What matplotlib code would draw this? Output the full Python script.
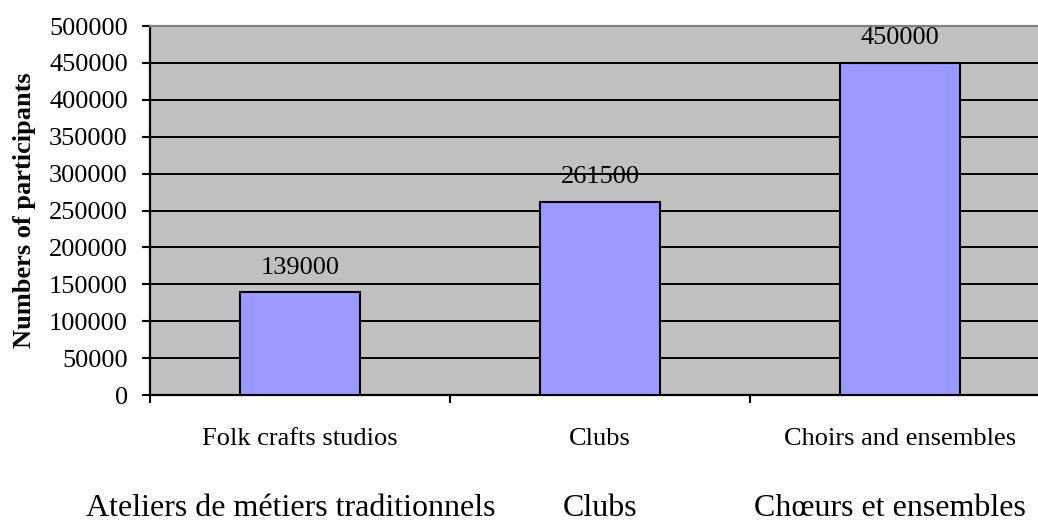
import matplotlib
matplotlib.use("Agg")
import matplotlib.pyplot as plt
from matplotlib.ticker import FixedLocator, MultipleLocator

plt.rcParams['font.family'] = ['Liberation Serif', 'DejaVu Serif']

categories_en = ["Folk crafts studios", "Clubs", "Choirs and ensembles"]
categories_fr = ["Ateliers de métiers traditionnels", "Clubs", "Chœurs et ensembles"]
values = [139000, 261500, 450000]
y_label = "Numbers of participants"

W, H = 1038, 521
fig = plt.figure(figsize=(W / 100, H / 100), dpi=100)
ax = fig.add_axes([150 / W, 126 / H, 900 / W, 369 / H])
ax.set_facecolor('#C0C0C0')

x = [i + 0.5 for i in range(len(values))]
bars = ax.bar(x, values, width=0.4, color='#9999FF', edgecolor='black', linewidth=1.5, zorder=3)

ax.set_xlim(0, len(values))
ax.set_ylim(0, 500000)
ax.yaxis.set_major_locator(MultipleLocator(50000))
ax.grid(axis='y', color='black', linewidth=1.4, zorder=1)
ax.set_axisbelow(True)

ax.set_xticks(x)
ax.set_xticklabels(categories_en, fontsize=19)
ax.xaxis.set_minor_locator(FixedLocator(range(len(values) + 1)))
ax.tick_params(axis='x', which='major', length=0, pad=24)
ax.tick_params(axis='x', which='minor', length=5.5, width=1.5, direction='out', color='black')
ax.tick_params(axis='y', length=6, width=1.5, pad=10, labelsize=19, direction='out')

for s in ['left', 'bottom']:
    ax.spines[s].set_color('black')
    ax.spines[s].set_linewidth(1.6)
ax.spines['top'].set_color('#808080')
ax.spines['top'].set_linewidth(1.6)
ax.spines['right'].set_visible(False)

for xi, v in zip(x, values):
    ax.annotate(f"{v}", (xi, v), xytext=(0, 10), textcoords='offset points',
                ha='center', va='bottom', fontsize=19)

fig.text(25 / W, 1 - 210 / H, y_label, rotation=90, ha='center', va='center',
         fontsize=19, fontweight='bold')

fr_centers = [291, 600, 890]
for cx, lab in zip(fr_centers, categories_fr):
    fig.text(cx / W, 1 - 508 / H, lab, ha='center', va='center', fontsize=23)

fig.savefig("out.png", dpi=100)
